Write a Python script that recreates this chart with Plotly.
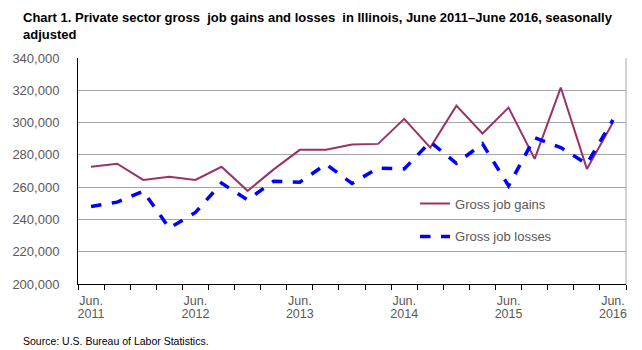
import plotly.graph_objects as go

quarters = ["Jun. 2011", "Sep. 2011", "Dec. 2011", "Mar. 2012", "Jun. 2012", "Sep. 2012",
            "Dec. 2012", "Mar. 2013", "Jun. 2013", "Sep. 2013", "Dec. 2013", "Mar. 2014",
            "Jun. 2014", "Sep. 2014", "Dec. 2014", "Mar. 2015", "Jun. 2015", "Sep. 2015",
            "Dec. 2015", "Mar. 2016", "Jun. 2016"]
gross_job_gains = [272700, 274500, 264500, 266400, 264500, 272600, 257700, 271000, 283100,
                   283100, 286400, 286800, 302300, 284500, 310500, 293200, 309300, 277500,
                   321700, 271300, 300000]
gross_job_losses = [248000, 250700, 257500, 234600, 244300, 262500, 252100, 263700, 263100,
                    274200, 262300, 271800, 271300, 288000, 274800, 286800, 260800, 290700,
                    284500, 274400, 301700]
tick_months = ["Jun.", "Jun.", "Jun.", "Jun.", "Jun.", "Jun."]
tick_years = ["2011", "2012", "2013", "2014", "2015", "2016"]

x = list(range(len(quarters)))
label_pos = [i for i, q in enumerate(quarters) if q.startswith("Jun.")]

fig = go.Figure()
fig.add_trace(go.Scatter(x=x, y=gross_job_gains, mode="lines", name="Gross job gains",
                         line=dict(color="#993366", width=2), legendgroup="a",
                         customdata=quarters, hovertemplate="%{customdata}: %{y:,}"))
fig.add_trace(go.Scatter(x=x, y=gross_job_losses, mode="lines", name="Gross job losses",
                         line=dict(color="#0000FF", width=3.5, dash="dash"), legendgroup="b",
                         customdata=quarters, hovertemplate="%{customdata}: %{y:,}"))

grey = "#595959"
tickfont = dict(family="Liberation Sans, Arial", size=13, color=grey)
xtickfont = dict(family="Liberation Sans, Arial", size=12.5, color=grey)
xrange = [-0.5, len(quarters) - 0.5]
fig.update_layout(
    width=642, height=350,
    margin=dict(l=66, r=16, t=58, b=66),
    paper_bgcolor="white", plot_bgcolor="white",
    showlegend=True,
    legend=dict(x=0.615, y=0.283, xanchor="left", yanchor="middle", bgcolor="rgba(0,0,0,0)",
                font=dict(family="Liberation Sans, Arial", size=13, color=grey),
                traceorder="grouped", tracegroupgap=13),
    xaxis=dict(range=xrange, tickmode="array", tickvals=label_pos, ticktext=tick_months,
               ticks="", showgrid=False, zeroline=False, showline=True, linecolor="black", linewidth=1,
               tickfont=xtickfont, ticklabelstandoff=5,
               minor=dict(tickmode="array", tickvals=[i - 0.5 for i in range(len(quarters) + 1)],
                          ticks="outside", ticklen=5, tickcolor="black", tickwidth=1, showgrid=False)),
    xaxis2=dict(range=xrange, tickmode="array", tickvals=label_pos, ticktext=tick_years,
                overlaying="x", anchor="y", side="bottom", ticks="", showgrid=False, zeroline=False,
                showline=False, tickfont=xtickfont, ticklabelstandoff=20),
    yaxis=dict(range=[200000, 340000], dtick=20000, tickformat=",", ticks="",
               showgrid=True, gridcolor="#a6a6a6", gridwidth=1, zeroline=False,
               showline=True, linecolor="black", linewidth=1,
               tickfont=tickfont, ticklabelstandoff=15),
    shapes=[dict(type="line", xref="paper", yref="paper", x0=1, x1=1, y0=0, y1=1,
                 line=dict(color="#a6a6a6", width=1))],
    annotations=[
        dict(text="<b>Chart 1. Private sector gross  job gains and losses  in Illinois, June 2011–June 2016, seasonally<br>adjusted</b>",
             xref="paper", yref="paper", x=-58/560, y=1 + 50/226, xanchor="left", yanchor="top",
             align="left", showarrow=False,
             font=dict(family="Liberation Sans, Arial", size=13, color="black")),
        dict(text="Source: U.S. Bureau of Labor Statistics.", xref="paper", yref="paper",
             x=-58/560, y=-57/226, xanchor="left", yanchor="middle", showarrow=False,
             font=dict(family="Liberation Sans, Arial", size=10.5, color="black")),
    ],
)
# invisible helper trace so the second (year) label axis is drawn
fig.add_trace(go.Scatter(x=[x[0]], y=[gross_job_gains[0]], xaxis="x2", mode="lines",
                         showlegend=False, hoverinfo="skip", line=dict(width=0)))

fig.write_html("out.html")
